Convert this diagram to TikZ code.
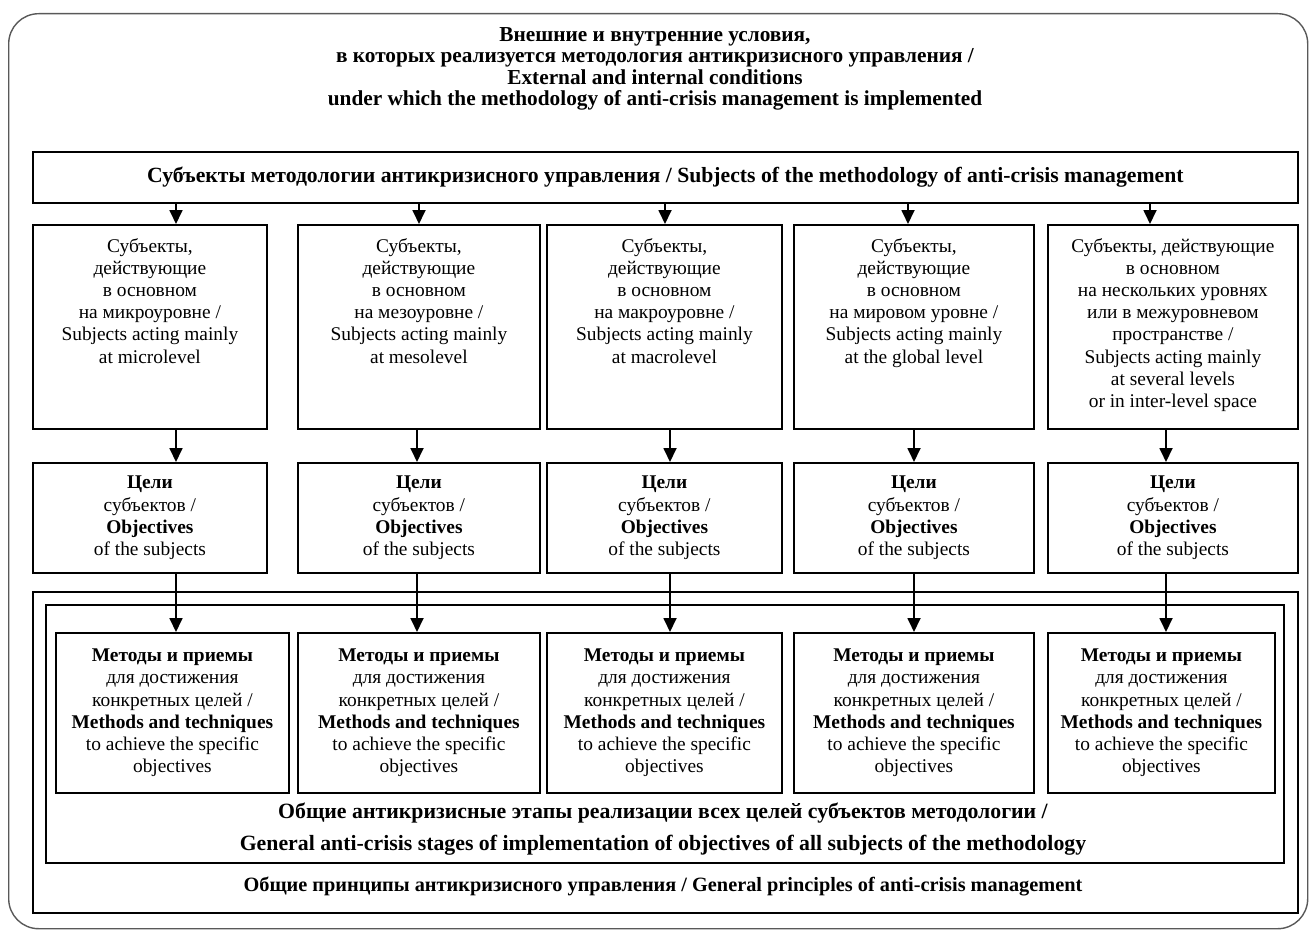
\documentclass[tikz,border=0pt]{standalone}
\usepackage{fontspec}
\setmainfont{Liberation Serif}
\usetikzlibrary{arrows.meta,calc}
\newcommand{\fs}{\fontsize{19.4}{22.2}\selectfont}
\newcommand{\fst}{\fontsize{21.3}{21.4}\selectfont}
\newcommand{\fsh}{\fontsize{21.7}{22.2}\selectfont}
\newcommand{\fsg}{\fontsize{21.8}{22.2}\selectfont}
\newcommand{\fsp}{\fontsize{20.3}{22.2}\selectfont}
\begin{document}
\begin{tikzpicture}[x=1pt,y=-1pt,
  box/.style={draw, line width=1.8pt, inner sep=0pt, anchor=north west, align=center, font=\fs},
  txt/.style={align=center, inner sep=0pt, font=\fs},
  btxt/.style={align=center, inner sep=0pt, font=\fs\bfseries},
  arr/.style={line width=1.8pt, -{Triangle[length=14pt,width=13pt]}},
  frame/.style={draw=black!65, line width=1.4pt, rounded corners=30pt, inner sep=0pt, anchor=north west},
]
\useasboundingbox (0,0) rectangle (1309,931);
\node[frame, minimum width=1299pt, minimum height=915pt] (frame) at (8,13) {};

\node[btxt, font=\fst\bfseries] (title) at (655,69) {Внешние и внутренние условия,\\
в которых реализуется методология антикризисного управления /\\
External and internal conditions\\
under which the methodology of anti-crisis management is implemented};

\node[box, font=\fsh\bfseries, minimum width=1265pt, minimum height=51pt] (top) at (32,151)
  {Субъекты методологии антикризисного управления / Subjects of the methodology of anti-crisis management};

% subject boxes
\node[box, minimum width=234pt, minimum height=204pt] (s1) at (32,224) {};
\node[box, minimum width=242pt, minimum height=204pt] (s2) at (297,224) {};
\node[box, minimum width=235pt, minimum height=204pt] (s3) at (546,224) {};
\node[box, minimum width=240pt, minimum height=204pt] (s4) at (793,224) {};
\node[box, minimum width=250pt, minimum height=204pt] (s5) at (1047,224) {};

\node[txt, anchor=north] (st1) at ($(s1.north)+(0,14)$) {Субъекты,\\действующие\\в основном\\на микроуровне /\\Subjects acting mainly\\at microlevel};
\node[txt, anchor=north] (st2) at ($(s2.north)+(0,14)$) {Субъекты,\\действующие\\в основном\\на мезоуровне /\\Subjects acting mainly\\at mesolevel};
\node[txt, anchor=north] (st3) at ($(s3.north)+(0,14)$) {Субъекты,\\действующие\\в основном\\на макроуровне /\\Subjects acting mainly\\at macrolevel};
\node[txt, anchor=north] (st4) at ($(s4.north)+(0,14)$) {Субъекты,\\действующие\\в основном\\на мировом уровне /\\Subjects acting mainly\\at the global level};
\node[txt, anchor=north] (st5) at ($(s5.north)+(0,14)$) {Субъекты, действующие\\в основном\\на нескольких уровнях\\или в межуровневом\\пространстве /\\Subjects acting mainly\\at several levels\\or in inter-level space};

% goal boxes
\newcommand{\goal}{\textbf{Цели}\\субъектов /\\\textbf{Objectives}\\of the subjects}
\node[box, minimum width=234pt, minimum height=110pt] (g1) at (32,462) {\goal};
\node[box, minimum width=242pt, minimum height=110pt] (g2) at (297,462) {\goal};
\node[box, minimum width=235pt, minimum height=110pt] (g3) at (546,462) {\goal};
\node[box, minimum width=240pt, minimum height=110pt] (g4) at (793,462) {\goal};
\node[box, minimum width=250pt, minimum height=110pt] (g5) at (1047,462) {\goal};

% principles and stages
\node[box, minimum width=1265pt, minimum height=321pt] (pr) at (32,591) {};
\node[box, minimum width=1238pt, minimum height=258pt] (stg) at (45,604) {};
\node[btxt, font=\fsp\bfseries] (prt) at (663,886) {Общие принципы антикризисного управления / General principles of anti-crisis management};
\node[btxt, font=\fsg\bfseries] (stgt) at (663,829) {Общие антикризисные этапы реализации всех целей субъектов методологии /\\[9.4pt]
General anti-crisis stages of implementation of objectives of all subjects of the methodology};

% method boxes
\newcommand{\meth}{\textbf{Методы и приемы}\\для достижения\\конкретных целей /\\\textbf{Methods and techniques}\\to achieve the specific\\objectives}
\node[box, minimum width=233pt, minimum height=160pt] (m1) at (55,632) {\meth};
\node[box, minimum width=242pt, minimum height=160pt] (m2) at (297,632) {\meth};
\node[box, minimum width=235pt, minimum height=160pt] (m3) at (546,632) {\meth};
\node[box, minimum width=240pt, minimum height=160pt] (m4) at (793,632) {\meth};
\node[box, minimum width=227pt, minimum height=160pt] (m5) at (1047,632) {\meth};

% arrow columns
\coordinate (a1) at (176,0);
\coordinate (a2) at (419,0);
\coordinate (a3) at (665,0);
\coordinate (a4) at (908,0);
\coordinate (a5) at (1150,0);
\coordinate (b1) at (176,0);
\coordinate (b2) at (417,0);
\coordinate (b3) at (670,0);
\coordinate (b4) at (914,0);
\coordinate (b5) at (1166,0);

\foreach \i in {1,...,5}{
  \draw[arr] (top.south -| a\i) -- (s\i.north -| a\i);
  \draw[arr] (s\i.south -| b\i) -- (g\i.north -| b\i);
  \draw[arr] (g\i.south -| b\i) -- (m\i.north -| b\i);
}
\end{tikzpicture}
\end{document}
